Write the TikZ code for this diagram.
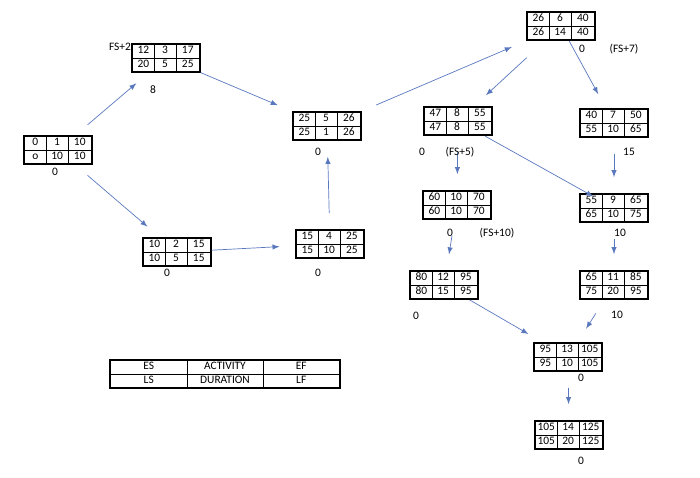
\documentclass[tikz,border=0pt]{standalone}
\usepackage{fontspec}
\setmainfont{Carlito}
\usepackage{array}
\usetikzlibrary{calc}
\definecolor{linkblue}{RGB}{90,120,190}
\newcommand{\cpmbox}[8]{%
  \node[actbox] (#1) at #2 {\begin{tabular}{|w{c}{9pt}|w{c}{9pt}|w{c}{10pt}|}\hline
    #3 & #4 & #5 \\\hline #6 & #7 & #8 \\\hline\end{tabular}};}

\begin{document}
\begin{tikzpicture}[x=0.02cm, y=-0.02cm,
  actbox/.style={draw, line width=0.9pt, inner sep=0pt, font=\fontsize{6.5}{7.5}\selectfont},
  link/.style={-latex, draw=linkblue, shorten <=9pt, shorten >=9pt},
  lbl/.style={font=\fontsize{6.5}{7.5}\selectfont, inner sep=1pt}]
  \useasboundingbox (0,0) rectangle (700,477);
  \setlength{\tabcolsep}{1.5pt}

  % activity boxes (ES ACT EF / LS DUR LF)
  \cpmbox{n1}{(58,150)}{0}{1}{10}{o}{10}{10}
  \cpmbox{n2}{(166,58)}{12}{3}{17}{20}{5}{25}
  \cpmbox{n3}{(177,252)}{10}{2}{15}{10}{5}{15}
  \cpmbox{n4}{(330,244)}{15}{4}{25}{15}{10}{25}
  \cpmbox{n5}{(327,126)}{25}{5}{26}{25}{1}{26}
  \cpmbox{n6}{(561,26)}{26}{6}{40}{26}{14}{40}
  \cpmbox{n7}{(458,121)}{47}{8}{55}{47}{8}{55}
  \cpmbox{n8}{(614,123)}{40}{7}{50}{55}{10}{65}
  \cpmbox{n9}{(457,205)}{60}{10}{70}{60}{10}{70}
  \cpmbox{n10}{(614,208)}{55}{9}{65}{65}{10}{75}
  \cpmbox{n11}{(444,285)}{80}{12}{95}{80}{15}{95}
  \cpmbox{n12}{(614,285)}{65}{11}{85}{75}{20}{95}
  \cpmbox{n13}{(568,357)}{95}{13}{105}{95}{10}{105}
  \cpmbox{n14}{(569,435)}{105}{14}{125}{105}{20}{125}

  % legend
  \node[actbox] (key) at (225,374) {\begin{tabular}{|w{c}{40pt}|w{c}{40pt}|w{c}{40pt}|}\hline
    ES & ACTIVITY & EF \\\hline LS & DURATION & LF \\\hline\end{tabular}};

  % dependencies
  \draw[link] (n1) -- (n2);
  \draw[link] (n1) -- (n3);
  \draw[link, shorten <=0pt] (n2) -- (n5);
  \draw[link, shorten <=0pt] (n3) -- (n4);
  \draw[link] (n4) -- (n5);
  \draw[link] (n5) -- (n6);
  \draw[link, shorten <=14pt] (n6) -- (n7);
  \draw[link, shorten <=0pt] (n6) -- (n8);
  \draw[link] (n7) -- (n9);
  \draw[link, shorten <=0pt, shorten >=-4pt] (n7) -- (n10);
  \draw[link] (n8) -- (n10);
  \draw[link] (n9) -- (n11);
  \draw[link] (n10) -- (n12);
  \draw[link, shorten <=0pt] (n11) -- (n13);
  \draw[link] (n12) -- (n13);
  \draw[link] (n13) -- (n14);

  % lags and floats
  \node[lbl] (t1) at (120,47) {FS+2};
  \node[lbl] (t2) at (153,90) {8};
  \node[lbl] (t3) at (55,172) {0};
  \node[lbl] (t4) at (167,273) {0};
  \node[lbl] (t5) at (318,273) {0};
  \node[lbl] (t6) at (318,152) {0};
  \node[lbl] (t7) at (582,49) {0};
  \node[lbl] (t8) at (624,49) {(FS+7)};
  \node[lbl] (t9) at (422,152) {0};
  \node[lbl] (t10) at (460,152) {(FS+5)};
  \node[lbl] (t11) at (629,152) {15};
  \node[lbl] (t12) at (450,233) {0};
  \node[lbl] (t13) at (497,233) {(FS+10)};
  \node[lbl] (t14) at (620,233) {10};
  \node[lbl] (t15) at (416,316) {0};
  \node[lbl] (t16) at (617,315) {10};
  \node[lbl] (t17) at (581,378) {0};
  \node[lbl] (t18) at (581,461) {0};
\end{tikzpicture}
\end{document}
